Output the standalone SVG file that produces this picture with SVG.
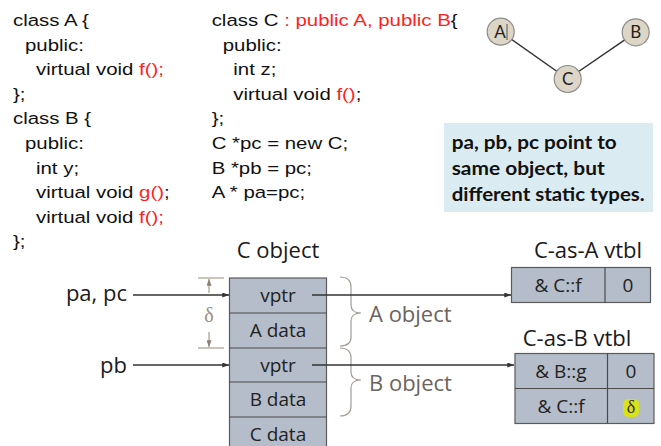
<svg xmlns="http://www.w3.org/2000/svg" width="661" height="446" viewBox="0 0 661 446">
<defs>
<marker id="ah" viewBox="0 0 8 6" refX="8" refY="3" markerWidth="7" markerHeight="5" orient="auto" markerUnits="userSpaceOnUse"><path d="M0,0 L8,3 L0,6 z" fill="#333"/></marker>
<marker id="dh" viewBox="0 0 8 6" refX="8" refY="3" markerWidth="7" markerHeight="5" orient="auto" markerUnits="userSpaceOnUse"><path d="M0,0 L8,3 L0,6 z" fill="#8a7f73"/></marker>
</defs>
<style>
.code{font-family:"Liberation Sans",Arial,sans-serif;font-size:17px;fill:#111}
.red{fill:#ff1f1f}
.os{font-family:"Open Sans",sans-serif;fill:#1a1a1a}
.big{font-size:22px}
.cellt{font-size:19px;text-anchor:middle;fill:#222}
.cell{fill:#b4bdc9;stroke:#5a5a5a;stroke-width:1.2}
.div{stroke:#4a4a4a;stroke-width:1.2}
.conn{stroke:#333;stroke-width:1.3;fill:none}
.dim{stroke:#a09484;stroke-width:1.1;fill:none}
.brace{stroke:#a39c94;stroke-width:1.2;fill:none}
.gray{fill:#6b6560}
.node{fill:#ddd5c6;stroke:#8c8c8c;stroke-width:1.2}
.nt{font-family:Lato,"Open Sans",sans-serif;font-size:17px;fill:#222;text-anchor:middle}
.note{font-family:Lato,"Open Sans",sans-serif;font-weight:bold;font-size:19px;fill:#111}
</style>
<rect width="661" height="446" fill="#fff"/>

<g id="code" transform="scale(1.2,1)">
<text class="code" x="10.8" y="26">class A {</text>
<text class="code" x="20.8" y="50.6">public:</text>
<text class="code" x="30" y="75.2">virtual void <tspan class="red">f();</tspan></text>
<text class="code" x="10.8" y="99.8">};</text>
<text class="code" x="10.8" y="124.4">class B {</text>
<text class="code" x="20.8" y="149">public:</text>
<text class="code" x="30" y="173.6">int y;</text>
<text class="code" x="30" y="198.2">virtual void <tspan class="red">g()</tspan>;</text>
<text class="code" x="30" y="222.8">virtual void <tspan class="red">f();</tspan></text>
<text class="code" x="10.8" y="247.4">};</text>

<text class="code" x="176.4" y="26">class C<tspan class="red"> : public A, public B</tspan>{</text>
<text class="code" x="185.6" y="50.6">public:</text>
<text class="code" x="194.4" y="75.2">int z;</text>
<text class="code" x="194.4" y="99.8">virtual void <tspan class="red">f()</tspan>;</text>
<text class="code" x="176.4" y="124.4">};</text>
<text class="code" x="176.4" y="149">C *pc = new C;</text>
<text class="code" x="176.4" y="173.6">B *pb = pc;</text>
<text class="code" x="176.4" y="198.2">A * pa=pc;</text>
</g>

<g id="graph-edges">
<line x1="500.7" y1="31.7" x2="567.7" y2="79" stroke="#333" stroke-width="1.5"/>
<line x1="635.7" y1="32.3" x2="567.7" y2="79" stroke="#333" stroke-width="1.5"/>
</g>
<g id="nodeA"><circle class="node" cx="500.7" cy="31.7" r="13.5"/><text class="nt" x="500" y="37.5">A</text><line x1="507" y1="24" x2="507" y2="40" stroke="#333" stroke-width="0.8"/></g>
<g id="nodeB"><circle class="node" cx="635.7" cy="32.3" r="13.5"/><text class="nt" x="635.7" y="38.3">B</text></g>
<g id="nodeC"><circle class="node" cx="567.7" cy="79" r="13.5"/><text class="nt" x="567.7" y="85">C</text></g>

<g id="note">
<rect x="444" y="123" width="209" height="89" fill="#dbebf2"/>
<text class="note" x="451.7" y="149" textLength="165" lengthAdjust="spacingAndGlyphs">pa, pb, pc point to</text>
<text class="note" x="451.7" y="175" textLength="153" lengthAdjust="spacingAndGlyphs">same object, but</text>
<text class="note" x="451.7" y="201" textLength="193" lengthAdjust="spacingAndGlyphs">different static types.</text>
</g>

<g id="cobject">
<text class="os big" x="278" y="258" text-anchor="middle">C object</text>
<rect class="cell" x="229.5" y="278" width="97" height="175"/>
<line class="div" x1="229.5" y1="313" x2="326.5" y2="313"/>
<line class="div" x1="229.5" y1="348" x2="326.5" y2="348"/>
<line class="div" x1="229.5" y1="382" x2="326.5" y2="382" stroke-width="1.6"/>
<line class="div" x1="229.5" y1="417" x2="326.5" y2="417"/>
<text class="os cellt" x="278" y="302">vptr</text>
<text class="os cellt" x="278" y="337">A data</text>
<text class="os cellt" x="278" y="372">vptr</text>
<text class="os cellt" x="278" y="406">B data</text>
<text class="os cellt" x="278" y="441">C data</text>
</g>

<g id="ptrlabels">
<text class="os big" x="127" y="301" text-anchor="end">pa, pc</text>
<text class="os big" x="127" y="373" text-anchor="end">pb</text>
</g>

<g id="delta">
<line class="dim" x1="198" y1="278" x2="224" y2="278"/>
<line class="dim" x1="198" y1="348" x2="224" y2="348"/>
<line class="dim" x1="209" y1="293" x2="209" y2="279" marker-end="url(#dh)"/>
<line class="dim" x1="209" y1="332" x2="209" y2="347" marker-end="url(#dh)"/>
<text x="209" y="322" text-anchor="middle" font-family="'Liberation Serif',serif" font-size="20" fill="#9a8e80">δ</text>
</g>

<g id="objlabels">
<path class="brace" d="M340,277 Q351,277 351,287 L351,305 Q351,313 361,313 Q351,313 351,321 L351,337 Q351,346 340,346"/>
<path class="brace" d="M340,348 Q351,348 351,358 L351,372 Q351,380 361,380 Q351,380 351,388 L351,406 Q351,416 340,416"/>
<text class="os big gray" x="369" y="322">A object</text>
<text class="os big gray" x="369" y="391">B object</text>
</g>

<g id="vtblA">
<text class="os big" x="588" y="258" text-anchor="middle">C-as-A vtbl</text>
<rect class="cell" x="511.5" y="267.5" width="139" height="35"/>
<line class="div" x1="605" y1="267.5" x2="605" y2="302.5"/>
<text class="os cellt" x="558" y="292">&amp; C::f</text>
<text class="os cellt" x="628" y="292">0</text>
</g>

<g id="vtblB">
<text class="os big" x="577" y="346" text-anchor="middle">C-as-B vtbl</text>
<rect class="cell" x="515" y="353.5" width="139" height="70"/>
<line class="div" x1="515" y1="388.5" x2="654" y2="388.5" stroke-width="1.6"/>
<line class="div" x1="607.5" y1="353.5" x2="607.5" y2="423.5"/>
<text class="os cellt" x="561" y="378">&amp; B::g</text>
<text class="os cellt" x="631" y="378">0</text>
<text class="os cellt" x="561" y="413">&amp; C::f</text>
<rect x="623" y="399" width="16" height="18" rx="5" fill="#d8e21a"/>
<text x="631" y="413" text-anchor="middle" font-family="'Liberation Serif',serif" font-size="18" fill="#333">δ</text>
</g>

<g id="connectors">
<line class="conn" x1="133" y1="295" x2="229" y2="295" marker-end="url(#ah)"/>
<line class="conn" x1="133" y1="365" x2="229" y2="365" marker-end="url(#ah)"/>
<line class="conn" x1="312" y1="295" x2="511" y2="295" marker-end="url(#ah)"/>
<line class="conn" x1="312" y1="365" x2="514" y2="365" marker-end="url(#ah)"/>
</g>
</svg>
